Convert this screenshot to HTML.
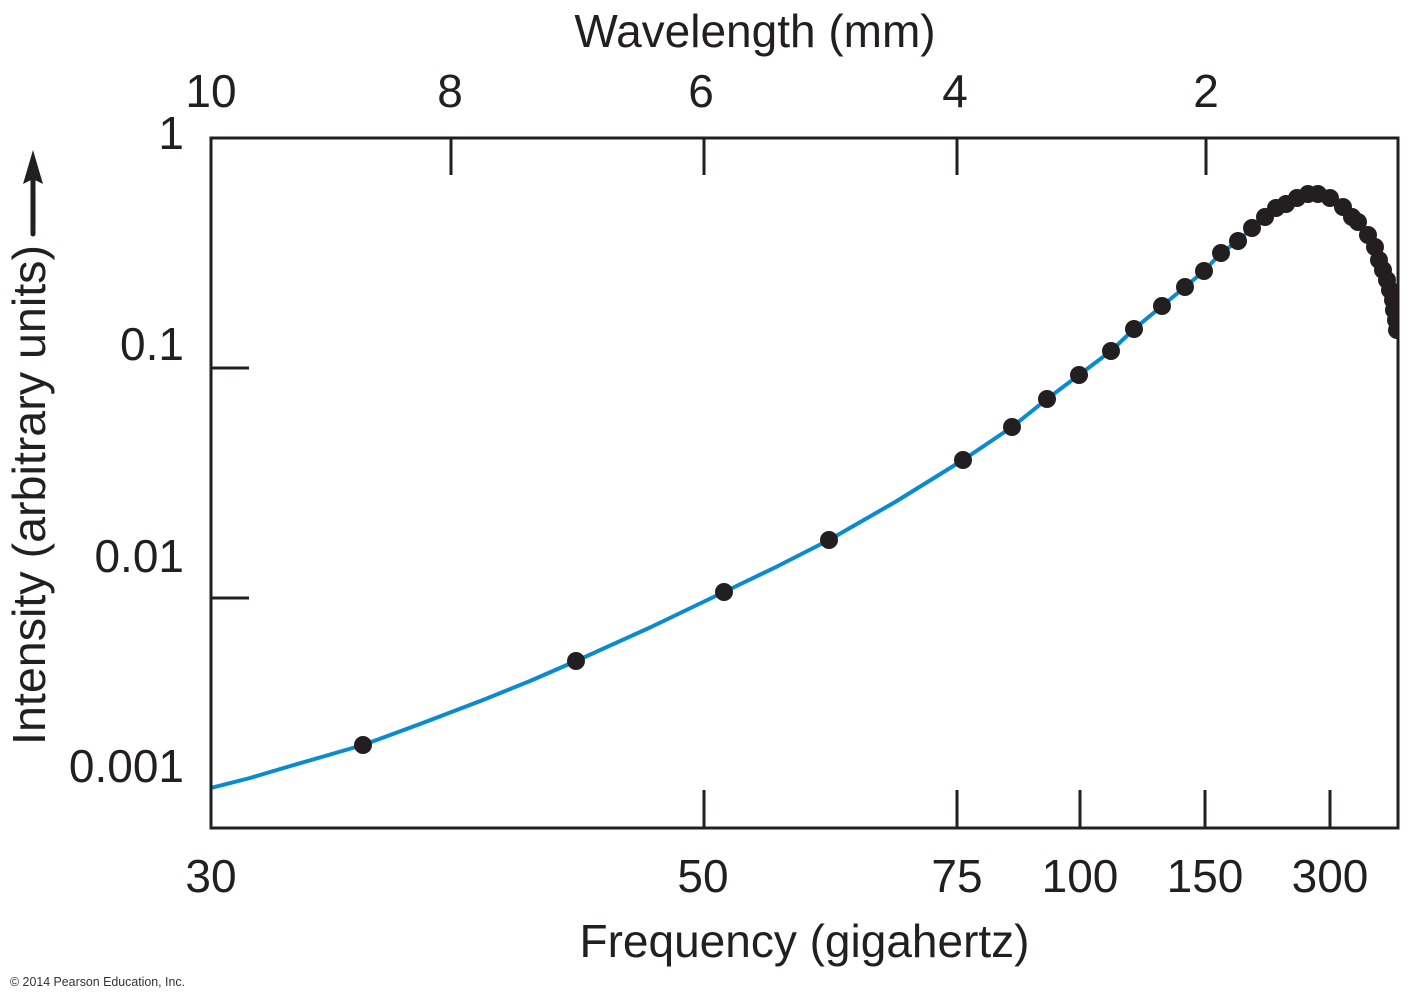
<!DOCTYPE html>
<html><head><meta charset="utf-8"><style>
html,body{margin:0;padding:0;background:#fff;}
svg{display:block;}
text{font-family:"Liberation Sans",Arial,sans-serif;fill:#231f20;}
</style></head><body>
<svg width="1411" height="1002" viewBox="0 0 1411 1002" xmlns="http://www.w3.org/2000/svg">
<defs><clipPath id="c"><rect x="211" y="138" width="1187" height="690"/></clipPath></defs>
<text x="755" y="47" font-size="46" text-anchor="middle">Wavelength (mm)</text>
<g font-size="46" text-anchor="middle">
<text x="211" y="107">10</text>
<text x="450" y="107">8</text>
<text x="701" y="107">6</text>
<text x="955" y="107">4</text>
<text x="1206" y="107">2</text>
<text x="211" y="892">30</text>
<text x="703" y="892">50</text>
<text x="957" y="892">75</text>
<text x="1080" y="892">100</text>
<text x="1205" y="892">150</text>
<text x="1330" y="892">300</text>
</g>
<g font-size="46" text-anchor="end">
<text x="184" y="149">1</text>
<text x="184" y="360">0.1</text>
<text x="184" y="572">0.01</text>
<text x="184" y="782">0.001</text>
</g>
<text x="804.5" y="957" font-size="46" text-anchor="middle">Frequency (gigahertz)</text>
<text transform="translate(45,495) rotate(-90)" font-size="46" text-anchor="middle" textLength="500" lengthAdjust="spacingAndGlyphs">Intensity (arbitrary units)</text>
<line x1="33" y1="234" x2="33" y2="175" stroke="#231f20" stroke-width="5" stroke-linecap="round"/>
<polygon points="33,150 23,184 33,179 43,184" fill="#231f20"/>
<text x="10" y="986" font-size="12.5" style="fill:#333" textLength="175" lengthAdjust="spacingAndGlyphs">© 2014 Pearson Education, Inc.</text>

<g clip-path="url(#c)">
<polyline fill="none" stroke="#0a8bd0" stroke-width="4" stroke-linejoin="round" points="211,788 250,778 287,767 325,756 363,745 420,724 483,700 530,681 576,661 650,627.5 724,592 776,567 829,540 896,501.5 963,460 1012,427 1047,399 1079,375 1111,351 1134,329 1162,306 1185,287 1204,271 1221,253 1238,241 1252,228 1265,217 1276,208 1286,204 1297,198 1308,194 1318,194 1330,198 1343,207 1352,217 1358,222 1368,235 1375,247 1379,260 1383,270 1387,280 1390,290 1393,300 1394,310 1396,320 1397,330 1398,336"/>
<g fill="#231f20">
<circle cx="363" cy="745" r="9"/>
<circle cx="576" cy="661" r="9"/>
<circle cx="724" cy="592" r="9"/>
<circle cx="829" cy="540" r="9"/>
<circle cx="963" cy="460" r="9"/>
<circle cx="1012" cy="427" r="9"/>
<circle cx="1047" cy="399" r="9"/>
<circle cx="1079" cy="375" r="9"/>
<circle cx="1111" cy="351" r="9"/>
<circle cx="1134" cy="329" r="9"/>
<circle cx="1162" cy="306" r="9"/>
<circle cx="1185" cy="287" r="9"/>
<circle cx="1204" cy="271" r="9"/>
<circle cx="1221" cy="253" r="9"/>
<circle cx="1238" cy="241" r="9"/>
<circle cx="1252" cy="228" r="9"/>
<circle cx="1265" cy="217" r="9"/>
<circle cx="1276" cy="208" r="9"/>
<circle cx="1286" cy="204" r="9"/>
<circle cx="1297" cy="198" r="9"/>
<circle cx="1308" cy="194" r="9"/>
<circle cx="1318" cy="194" r="9"/>
<circle cx="1330" cy="198" r="9"/>
<circle cx="1343" cy="207" r="9"/>
<circle cx="1352" cy="217" r="9"/>
<circle cx="1358" cy="222" r="9"/>
<circle cx="1368" cy="235" r="9"/>
<circle cx="1375" cy="247" r="9"/>
<circle cx="1379" cy="260" r="9"/>
<circle cx="1383" cy="270" r="9"/>
<circle cx="1387" cy="280" r="9"/>
<circle cx="1390" cy="290" r="9"/>
<circle cx="1393" cy="300" r="9"/>
<circle cx="1394" cy="310" r="9"/>
<circle cx="1396" cy="320" r="9"/>
<circle cx="1397" cy="330" r="9"/>
</g>
</g>

<g stroke="#231f20" stroke-width="3" fill="none">
<rect x="211" y="138" width="1187" height="690"/>
<line x1="451" y1="138" x2="451" y2="175"/>
<line x1="704" y1="138" x2="704" y2="175"/>
<line x1="957" y1="138" x2="957" y2="175"/>
<line x1="1206" y1="138" x2="1206" y2="175"/>
<line x1="704" y1="790" x2="704" y2="828"/>
<line x1="957" y1="790" x2="957" y2="828"/>
<line x1="1080" y1="790" x2="1080" y2="828"/>
<line x1="1205" y1="790" x2="1205" y2="828"/>
<line x1="1330" y1="790" x2="1330" y2="828"/>
<line x1="211" y1="368" x2="249" y2="368"/>
<line x1="211" y1="598" x2="249" y2="598"/>
</g>
</svg>
</body></html>
